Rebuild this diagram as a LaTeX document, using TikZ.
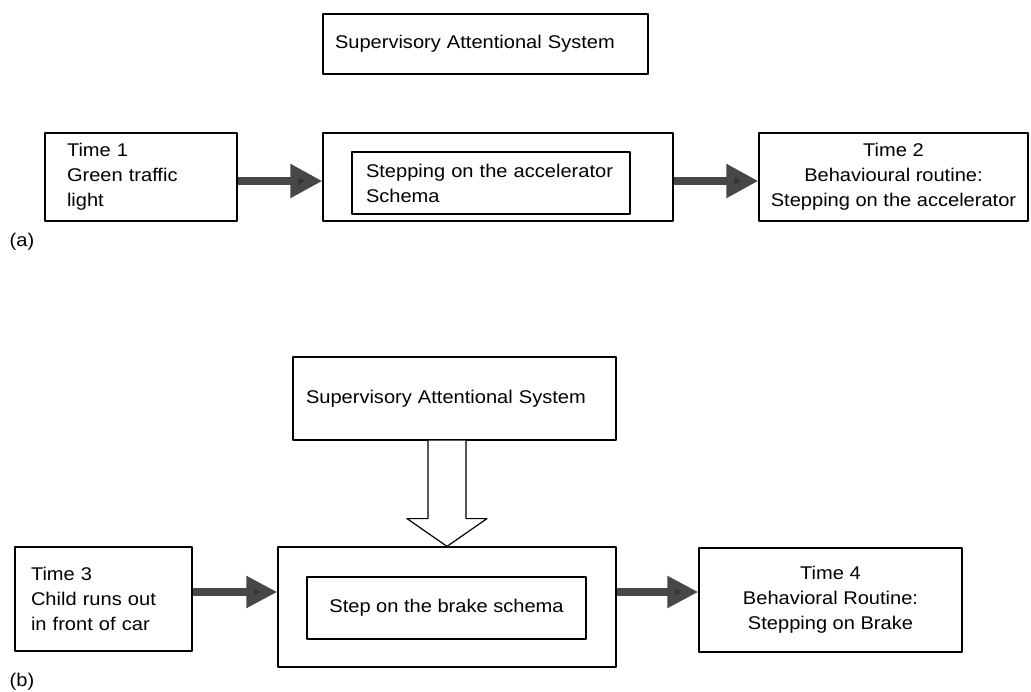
\documentclass[tikz,border=0pt]{standalone}
\usepackage{fontspec}
\setmainfont{Liberation Sans}[FakeStretch=1.09]
\usetikzlibrary{arrows.meta,calc,positioning}
\begin{document}
\begin{tikzpicture}[x=1pt,y=-1pt,line join=round]
\tikzset{every node/.style={font=\fontsize{18.4}{25}\selectfont},
  box/.style={draw,line width=1.2pt,inner sep=0pt},
  fatarrow/.style={draw=black!72,line width=8pt,
    -{Triangle[length=32pt,width=32pt,fill=black!80]}}}
\useasboundingbox (0,0) rectangle (1031,692);
% (a) green light
\node[box,minimum width=325pt,minimum height=60pt,text width=301pt,align=left] (sasa) at (485.5,44) {Supervisory Attentional System};
\node[box,minimum width=192pt,minimum height=88pt,text width=148pt,align=left] (t1) at (141,177) {Time 1\\Green traffic\\light};
\node[box,minimum width=350pt,minimum height=88pt] (sa) at (498,177) {};
\node[box,minimum width=278pt,minimum height=62pt,text width=250pt,align=left] (acc) at (491,183) {Stepping on the accelerator\\Schema};
\node[box,minimum width=269pt,minimum height=88pt,align=center] (t2) at (893.5,177) {Time 2\\Behavioural routine:\\Stepping on the accelerator};
\draw[fatarrow] ($(t1.east)+(0,4)$) coordinate (c1) -- (c1 -| sa.west);
\draw[fatarrow] ($(sa.east)+(0,4)$) coordinate (c2) -- (c2 -| t2.west);
\node (la) at (22,242) {(a)};
% (b) child runs out
\node[box,minimum width=323pt,minimum height=83pt,text width=297pt,align=left] (sasb) at (454.5,398.5) {Supervisory Attentional System};
\node[box,minimum width=177pt,minimum height=104pt,text width=145pt,align=left] (t3) at (103.5,599) {Time 3\\Child runs out\\in front of car};
\node[box,minimum width=338pt,minimum height=120pt] (bm) at (447,607) {};
\node[box,minimum width=279pt,minimum height=62pt,align=center] (brk) at (446.5,608) {Step on the brake schema};
\node[box,minimum width=263pt,minimum height=104pt,align=center] (t4) at (830.5,600) {Time 4\\Behavioral Routine:\\Stepping on Brake};
\draw[fatarrow,-{Triangle[length=31pt,width=30pt,fill=black!80]}] ($(t3.east)+(0,-7)$) coordinate (c3) -- (c3 -| bm.west);
\draw[fatarrow,-{Triangle[length=31pt,width=30pt,fill=black!80]}] ($(bm.east)+(0,-15)$) coordinate (c4) -- (c4 -| t4.west);
\coordinate (hs) at (sasb.south -| bm.north);
\draw[line width=1.2pt,fill=white] ($(hs)+(-19,0)$) -- ($(hs)+(-19,78)$) -- ($(hs)+(-40,78)$)
  -- (bm.north) -- ($(hs)+(40,78)$) -- ($(hs)+(19,78)$) -- ($(hs)+(19,0)$);
\node (lb) at (22,682) {(b)};
\end{tikzpicture}
\end{document}
